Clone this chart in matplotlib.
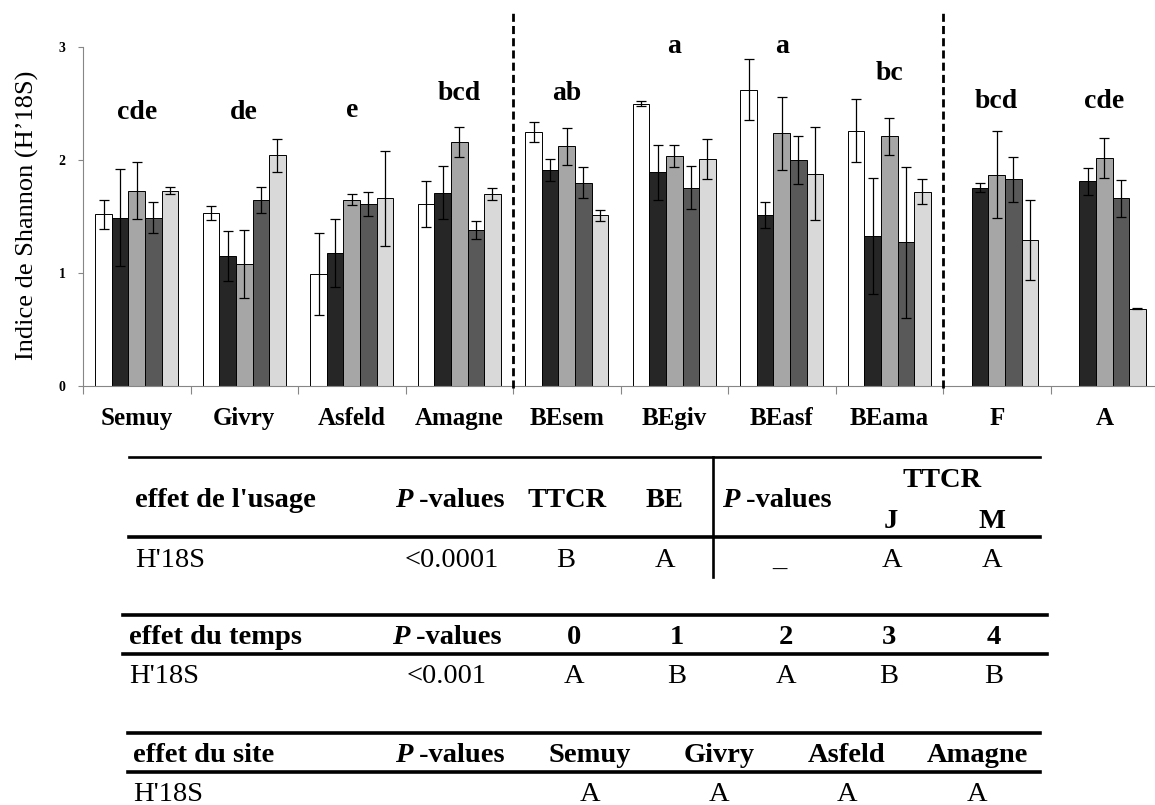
import numpy as np
import matplotlib
matplotlib.use("Agg")
import matplotlib.pyplot as plt
from matplotlib.lines import Line2D

plt.rcParams["font.family"] = ["Liberation Serif", "DejaVu Serif"]

# groups on the x axis
sites = ["Semuy", "Givry", "Asfeld", "Amagne", "BEsem", "BEgiv", "BEasf", "BEama", "F", "A"]

# Shannon index (H'18S) per sampling time, mean and error
nan = np.nan
t0_mean = [1.52, 1.53, 0.99, 1.61, 2.245, 2.50, 2.62, 2.26, nan, nan]
t0_err = [0.13, 0.065, 0.365, 0.20, 0.09, 0.02, 0.27, 0.28, nan, nan]
t1_mean = [1.49, 1.15, 1.18, 1.71, 1.91, 1.89, 1.51, 1.33, 1.755, 1.81]
t1_err = [0.43, 0.22, 0.30, 0.235, 0.10, 0.245, 0.115, 0.515, 0.04, 0.12]
t2_mean = [1.73, 1.08, 1.65, 2.16, 2.12, 2.035, 2.235, 2.21, 1.87, 2.02]
t2_err = [0.25, 0.30, 0.05, 0.13, 0.16, 0.10, 0.32, 0.165, 0.385, 0.175]
t3_mean = [1.49, 1.65, 1.61, 1.38, 1.80, 1.755, 2.00, 1.27, 1.83, 1.66]
t3_err = [0.14, 0.115, 0.105, 0.08, 0.135, 0.19, 0.215, 0.665, 0.20, 0.16]
t4_mean = [1.73, 2.04, 1.66, 1.70, 1.51, 2.01, 1.88, 1.72, 1.295, 0.685]
t4_err = [0.035, 0.145, 0.42, 0.05, 0.05, 0.18, 0.415, 0.11, 0.355, 0.005]

# significance letters above each group
letters = ["cde", "de", "e", "bcd", "ab", "a", "a", "bc", "bcd", "cde"]
letter_y = [2.36, 2.36, 2.38, 2.53, 2.53, 2.95, 2.95, 2.71, 2.46, 2.46]

# tables
usage_p = "<0.0001"
usage_letters = ["B", "A"]
usage_p2 = "_"
usage_ttcr = ["A", "A"]
temps_cols = ["0", "1", "2", "3", "4"]
temps_p = "<0.001"
temps_letters = ["A", "B", "A", "B", "B"]
site_cols = ["Semuy", "Givry", "Asfeld", "Amagne"]
site_letters = ["A", "A", "A", "A"]

colors = ["white", "#262626", "#a6a6a6", "#595959", "#d9d9d9"]
means = [t0_mean, t1_mean, t2_mean, t3_mean, t4_mean]
errs = [t0_err, t1_err, t2_err, t3_err, t4_err]

W, H = 1155, 805
fig = plt.figure(figsize=(W / 100, H / 100), dpi=100)
ax = fig.add_axes([83 / W, (H - 386) / H, 1075 / W, 386 / H])

x = np.arange(len(sites))
bw = 0.1545
for i in range(5):
    xi = x + (i - 2) * bw
    ax.bar(xi, means[i], width=bw, color=colors[i], edgecolor="black", linewidth=0.7, zorder=2)
    ax.errorbar(xi, means[i], yerr=errs[i], fmt="none", ecolor="black",
                elinewidth=0.9, capsize=3.6, capthick=0.9, zorder=3)

for xx, lab, yy in zip(x, letters, letter_y):
    ax.text(xx, yy, lab, ha="center", va="baseline", fontsize=20, fontweight="bold")

for xd in [3.5, 7.5]:
    ax.plot([xd, xd], [-0.02, 3.33], color="black", lw=2, dashes=(2.9, 1.5), clip_on=False, zorder=4)

ax.set_xlim(-0.5, 9.5)
ax.set_ylim(0, 3.416)
ax.set_yticks([0, 1, 2, 3])
ax.set_yticklabels(["0", "1", "2", "3"], fontsize=10, fontweight="bold")
ax.set_xticks(np.arange(-0.5, 10, 1))
ax.set_xticklabels([])
ax.tick_params(axis="y", length=3.6, width=0.8, color="#868686", pad=9)
ax.tick_params(axis="x", length=5.8, width=0.8, color="#868686")
for s in ["top", "right"]:
    ax.spines[s].set_visible(False)
for s in ["left", "bottom"]:
    ax.spines[s].set_color("#868686")
    ax.spines[s].set_linewidth(0.8)
ax.spines["left"].set_bounds(0, 3)

for xx, lab in zip(x, sites):
    ax.text(xx, -39 / 386, lab, transform=ax.get_xaxis_transform(), ha="center",
            va="baseline", fontsize=18, fontweight="bold")

fig.text(27 / W, 1 - 215 / H, "Indice de Shannon (H\u201918S)", rotation=90,
         ha="center", va="center", fontsize=19)


# ---- tables under the chart (pixel positions, y from top)
def fx(px):
    return px / W


def fy(py):
    return 1 - py / H


def hline(y, x0, x1, lw):
    fig.add_artist(Line2D([fx(x0), fx(x1)], [fy(y), fy(y)], color="black", lw=lw))


def txt(xp, yp, s, bold=False, ha="center"):
    fig.text(fx(xp), fy(yp), s, ha=ha, va="baseline", fontsize=20.5,
             fontweight="bold" if bold else "normal")


def pvalues(xp, yp):
    t = fig.text(fx(xp), fy(yp), "P", ha="left", va="baseline", fontsize=20.5,
                 fontweight="bold", fontstyle="italic")
    fig.add_artist(plt.Annotation(" -values", xy=(1, 0), xycoords=t, ha="left", va="bottom",
                                  fontsize=20.5, fontweight="bold"))


# effet de l'usage
hline(457, 129, 1040, 1.9)
hline(537, 129, 1040, 2.6)
fig.add_artist(Line2D([fx(713), fx(713)], [fy(457), fy(577)], color="black", lw=1.9))
txt(135, 507, "effet de l'usage", bold=True, ha="left")
pvalues(395, 507)
txt(567, 507, "TTCR", bold=True)
txt(665, 507, "BE", bold=True)
pvalues(722, 507)
txt(942, 487, "TTCR", bold=True)
txt(891, 528, "J", bold=True)
txt(992, 528, "M", bold=True)
txt(135, 567, "H'18S", ha="left")
txt(452, 567, usage_p)
for xp, s in zip([566, 665], usage_letters):
    txt(xp, 567, s)
txt(779, 567, usage_p2)
for xp, s in zip([892, 992], usage_ttcr):
    txt(xp, 567, s)

# effet du temps
hline(615, 123, 1047, 2.6)
hline(654, 123, 1047, 2.6)
txt(129, 644, "effet du temps", bold=True, ha="left")
pvalues(392, 644)
temps_x = [574, 677, 786, 889, 994]
for xp, s in zip(temps_x, temps_cols):
    txt(xp, 644, s, bold=True)
txt(129, 683, "H'18S", ha="left")
txt(447, 683, temps_p)
for xp, s in zip(temps_x, temps_letters):
    txt(xp, 683, s)

# effet du site
hline(733, 128, 1040, 2.6)
hline(772, 128, 1040, 2.6)
txt(133, 762, "effet du site", bold=True, ha="left")
pvalues(395, 762)
site_x = [590, 719, 847, 977]
for xp, s in zip(site_x, site_cols):
    txt(xp, 762, s, bold=True)
txt(133, 801, "H'18S", ha="left")
for xp, s in zip(site_x, site_letters):
    txt(xp, 801, s)

fig.savefig("out.png", dpi=100)
